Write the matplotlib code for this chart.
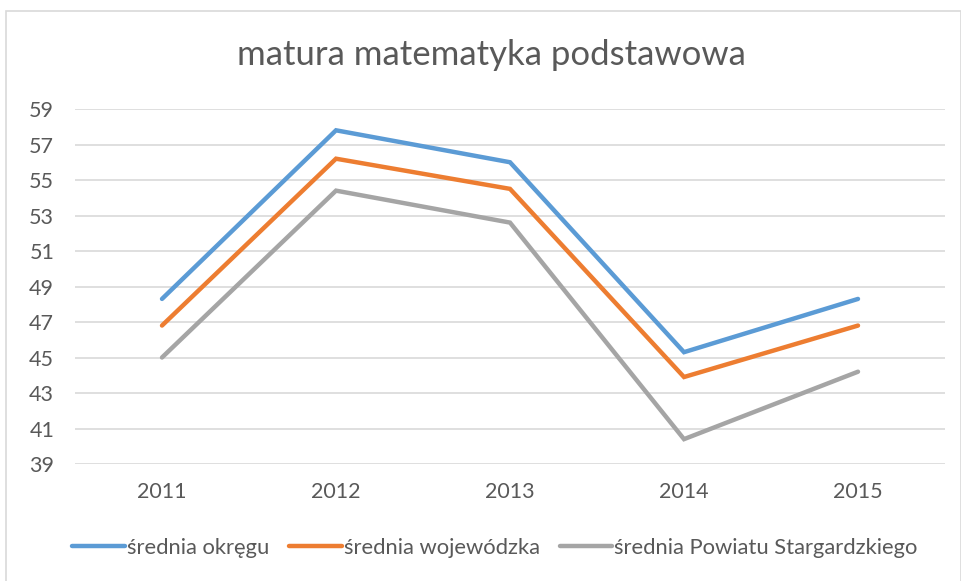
import matplotlib
matplotlib.use("Agg")
import matplotlib.pyplot as plt
from matplotlib.patches import Rectangle

plt.rcParams['font.family'] = ['Lato', 'DejaVu Sans']

years = ['2011', '2012', '2013', '2014', '2015']
okreg = [48.3, 57.8, 56.0, 45.3, 48.3]
wojewodzka = [46.8, 56.2, 54.5, 43.9, 46.8]
powiat = [45.0, 54.4, 52.6, 40.4, 44.2]
series_names = ['średnia okręgu', 'średnia wojewódzka', 'średnia Powiatu Stargardzkiego']
colors = ['#5B9BD5', '#ED7D31', '#A5A5A5']

fig = plt.figure(figsize=(9.62, 5.81), dpi=100)
ax = fig.add_axes([75 / 962, 1 - 464 / 581, 870 / 962, 355 / 581])

# chart frame like Excel
fig.patches.append(Rectangle((6 / 962, -0.1), 955 / 962, 1.1 - 11 / 581,
                             transform=fig.transFigure, fill=False,
                             edgecolor='#D9D9D9', linewidth=1.2))

x = range(len(years))
for vals, name, c in zip([okreg, wojewodzka, powiat], series_names, colors):
    ax.plot(x, vals, color=c, linewidth=3.2, solid_capstyle='round',
            solid_joinstyle='miter', label=name)

ax.set_xlim(-0.5, 4.5)
ax.set_ylim(39, 59)
ax.set_yticks(range(39, 60, 2))
ax.set_xticks(list(x))
ax.set_xticklabels(years)
ax.grid(axis='y', color='#D9D9D9', linewidth=1.2)
ax.set_axisbelow(True)
for s in ax.spines.values():
    s.set_visible(False)
ax.tick_params(length=0, labelsize=15.5, labelcolor='#595959')
ax.tick_params(axis='y', pad=15)
ax.tick_params(axis='x', pad=13)

fig.text(491 / 962, 1 - 55 / 581, 'matura matematyka podstawowa',
         ha='center', va='center', fontsize=25, color='#595959')

fig.legend(loc='center', bbox_to_anchor=(495 / 962, 1 - 548 / 581), ncol=3,
           frameon=False, fontsize=15.8, labelcolor='#595959',
           handlelength=2.4, handletextpad=0.1, columnspacing=0.9)

fig.savefig('out.png', dpi=100)
